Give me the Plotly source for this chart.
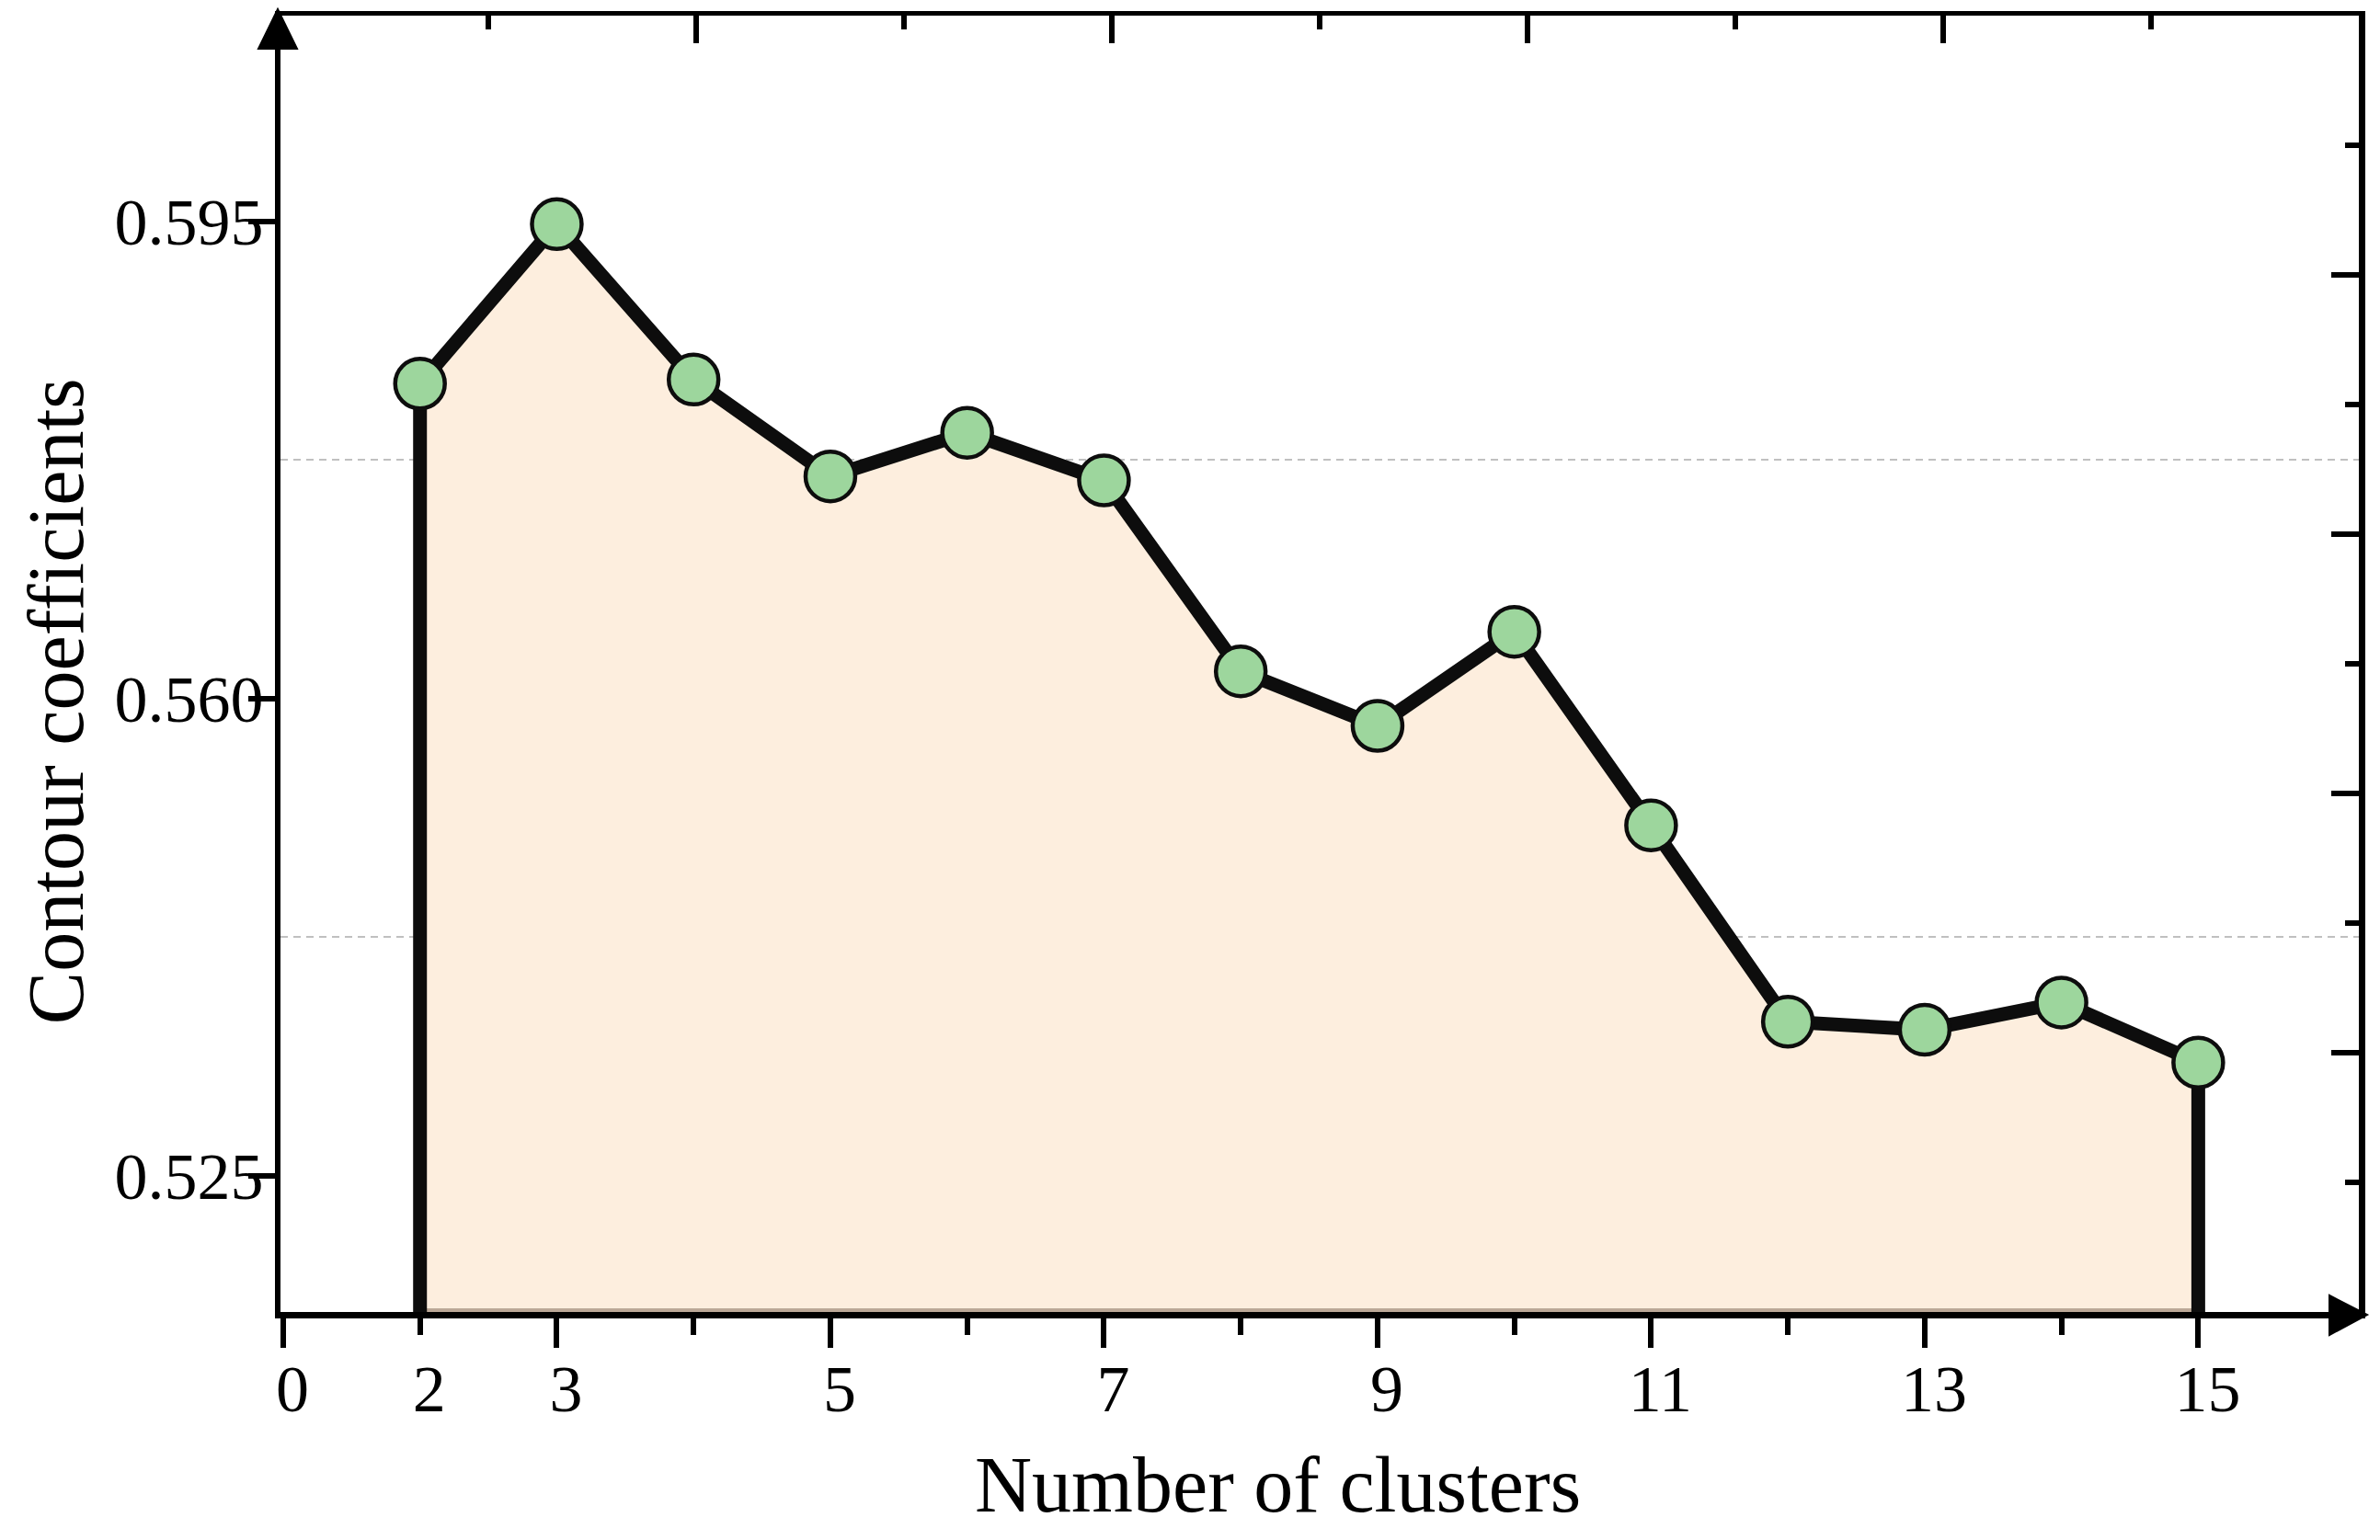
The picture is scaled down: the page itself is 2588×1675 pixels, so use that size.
import plotly.graph_objects as go

# ---------------- data ----------------
clusters = [2, 3, 4, 5, 6, 7, 8, 9, 10, 11, 12, 13, 14, 15]
contour = [0.5831, 0.5948, 0.5834, 0.5763, 0.5795, 0.5760, 0.5620,
           0.5580, 0.5649, 0.5507, 0.5363, 0.5357, 0.5377, 0.5333]

y_base = 0.515
y_top = 0.6101
x_min = 0.98
x_max = 16.174

x_major_vals = [1, 3, 5, 7, 9, 11, 13, 15]
x_major_text = ["0", "3", "5", "7", "9", "11", "13", "15"]
x_minor_vals = [2, 4, 6, 8, 10, 12, 14]
x_extra_vals = [2]
x_extra_text = ["2"]
y_tick_vals = [0.525, 0.560, 0.595]
y_tick_text = ["0.525", "0.560", "0.595"]
y_grid_vals = [0.5425, 0.5775]
frame_major = [2, 4, 6, 8]
frame_minor = [1, 3, 5, 7, 9]

# ---------------- styles ----------------
FONT = "Liberation Serif"
BLACK = "#0D0D0D"
FILL = "#FDEEDE"
EDGE = "#BBA897"
GREEN = "#9DD69D"

poly_x = [clusters[0]] + clusters + [clusters[-1]]
poly_y = [y_base] + contour + [y_base]

fig = go.Figure()
fig.add_trace(go.Scatter(x=poly_x, y=poly_y, mode="lines", fill="toself",
                         fillcolor=FILL, line=dict(width=0, color=FILL),
                         hoverinfo="skip", showlegend=False))
fig.add_trace(go.Scatter(x=[clusters[0], clusters[-1]], y=[y_base, y_base],
                         mode="lines", line=dict(width=8, color=EDGE),
                         hoverinfo="skip", showlegend=False))
fig.add_trace(go.Scatter(x=poly_x, y=poly_y, mode="lines",
                         line=dict(width=15, color=BLACK),
                         hoverinfo="skip", showlegend=False))
fig.add_trace(go.Scatter(x=clusters, y=contour, mode="markers",
                         marker=dict(size=54, color=GREEN,
                                     line=dict(width=4.5, color=BLACK)),
                         showlegend=False))
# dummy traces to materialise the frame axes
fig.add_trace(go.Scatter(x=[None], y=[None], xaxis="x2", yaxis="y2",
                         showlegend=False, hoverinfo="skip"))
fig.add_trace(go.Scatter(x=[None], y=[None], xaxis="x3", yaxis="y",
                         showlegend=False, hoverinfo="skip"))

tickfont = dict(family=FONT, size=72, color="black")

fig.update_layout(
    width=2572, height=1659,
    margin=dict(l=297, r=15, t=9, b=240, autoexpand=False),
    plot_bgcolor="white", paper_bgcolor="white", showlegend=False,
    xaxis=dict(range=[x_min, x_max], tickmode="array",
               tickvals=x_major_vals, ticktext=x_major_text,
               ticks="outside", ticklen=32, tickwidth=6, tickcolor="black",
               showline=True, linewidth=7, linecolor="black",
               showgrid=False, zeroline=False, tickfont=tickfont,
               ticklabelshift=10, ticklabelstandoff=-17, layer="below traces",
               minor=dict(tickvals=x_minor_vals, ticks="outside", ticklen=18,
                          tickwidth=6, tickcolor="black", showgrid=False)),
    xaxis3=dict(overlaying="x", anchor="y", side="bottom",
                range=[x_min, x_max], tickmode="array",
                tickvals=x_extra_vals, ticktext=x_extra_text,
                ticks="outside", ticklen=32, tickwidth=6,
                tickcolor="rgba(0,0,0,0)", showline=True, linewidth=7,
                linecolor="rgba(0,0,0,0)", showgrid=False,
                zeroline=False, tickfont=tickfont, ticklabelshift=10,
                ticklabelstandoff=-17),
    xaxis2=dict(overlaying="x", anchor="y", side="top", range=[0, 10],
                tickmode="array", tickvals=frame_major, ticks="inside",
                ticklen=30, tickwidth=6, tickcolor="black",
                showticklabels=False, showline=True, linewidth=5,
                linecolor="black", showgrid=False, zeroline=False,
                minor=dict(tickvals=frame_minor, ticks="inside", ticklen=15,
                           tickwidth=6, tickcolor="black", showgrid=False)),
    yaxis=dict(range=[y_base, y_top], tickmode="array",
               tickvals=y_tick_vals, ticktext=y_tick_text,
               ticks="outside", ticklen=29, tickwidth=6, tickcolor="black",
               showline=True, linewidth=6, linecolor="black",
               showgrid=False, zeroline=False, tickfont=tickfont,
               ticklabelstandoff=-31,
               minor=dict(tickvals=y_grid_vals, ticks="", showgrid=True,
                          gridcolor="#C0C0C0", gridwidth=2,
                          griddash="8px,6px")),
    yaxis2=dict(overlaying="y", anchor="x", side="right", range=[0, 10],
                tickmode="array", tickvals=frame_major, ticks="inside",
                ticklen=30, tickwidth=6, tickcolor="black",
                showticklabels=False, showline=True, linewidth=7,
                linecolor="black", showgrid=False, zeroline=False,
                minor=dict(tickvals=frame_minor, ticks="inside", ticklen=15,
                           tickwidth=6, tickcolor="black", showgrid=False)),
)

fig.add_annotation(text="Number of clusters", xref="paper", yref="paper",
                   x=0.4797, y=-0.1330, xanchor="center", yanchor="middle",
                   showarrow=False, font=dict(family=FONT, size=86, color="black"))
fig.add_annotation(text="Contour coefficients", xref="paper", yref="paper",
                   x=-0.1076, y=0.4714, xanchor="center", yanchor="middle",
                   textangle=-90, showarrow=False,
                   font=dict(family=FONT, size=86, color="black"))

# axis arrow heads
fig.add_shape(type="path", xref="paper", yref="paper",
              xsizemode="pixel", ysizemode="pixel", xanchor=0, yanchor=1,
              path="M -24 -36 L 18 -36 L -3 7 Z",
              fillcolor="black", line=dict(color="black", width=2), layer="above")
fig.add_shape(type="path", xref="paper", yref="paper",
              xsizemode="pixel", ysizemode="pixel", xanchor=1, yanchor=0,
              path="M -32 18 L -32 -25 L 9 -3 Z",
              fillcolor="black", line=dict(color="black", width=2), layer="above")

fig.write_html("out.html")
